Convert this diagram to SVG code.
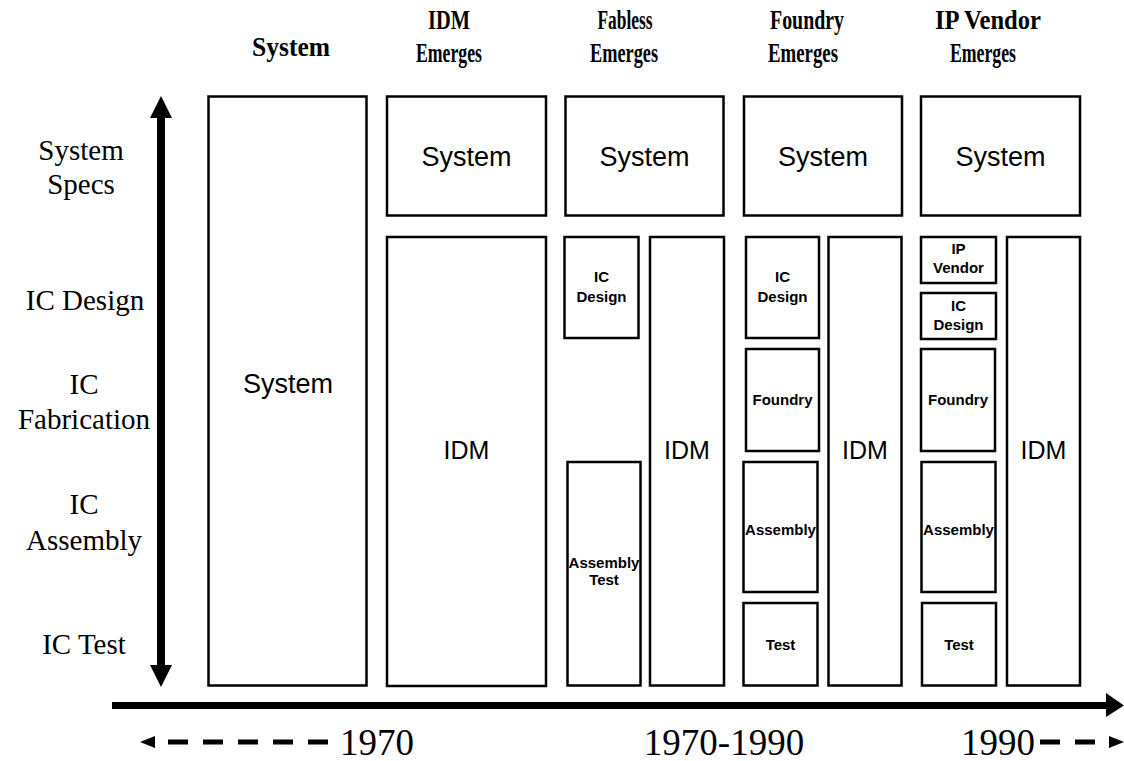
<svg xmlns="http://www.w3.org/2000/svg" width="1124" height="761" viewBox="0 0 1124 761">
  <style>
    .box { fill: #fff; stroke: #000; stroke-width: 2.5; }
    .hdr { font-family: "Liberation Serif", "Times New Roman", serif; font-weight: bold; font-size: 27px; text-anchor: middle; fill: #000; }
    .axis { font-family: "Liberation Serif", "Times New Roman", serif; font-size: 29px; text-anchor: middle; fill: #000; }
    .big { font-family: "Liberation Sans", Arial, sans-serif; font-size: 27px; text-anchor: middle; fill: #000; }
    .idm { font-family: "Liberation Sans", Arial, sans-serif; font-size: 25px; text-anchor: middle; fill: #000; }
    .small { font-family: "Liberation Sans", Arial, sans-serif; font-weight: bold; font-size: 15px; text-anchor: middle; fill: #000; }
    .year { font-family: "Liberation Serif", "Times New Roman", serif; font-size: 37px; text-anchor: middle; fill: #000; }
    .dash { stroke: #000; stroke-width: 5; stroke-dasharray: 20 15; fill: none; }
  </style>

  <rect width="1124" height="761" fill="#fff"/>

  <!-- column headings -->
  <g id="headings">
    <text class="hdr" x="291" y="56" textLength="78" lengthAdjust="spacingAndGlyphs">System</text>
    <text class="hdr" x="449" y="29" textLength="42" lengthAdjust="spacingAndGlyphs">IDM</text>
    <text class="hdr" x="449" y="62" textLength="66" lengthAdjust="spacingAndGlyphs">Emerges</text>
    <text class="hdr" x="625" y="29" textLength="55" lengthAdjust="spacingAndGlyphs">Fabless</text>
    <text class="hdr" x="624" y="62" textLength="68" lengthAdjust="spacingAndGlyphs">Emerges</text>
    <text class="hdr" x="807" y="29" textLength="74" lengthAdjust="spacingAndGlyphs">Foundry</text>
    <text class="hdr" x="803" y="62" textLength="70" lengthAdjust="spacingAndGlyphs">Emerges</text>
    <text class="hdr" x="988" y="29" textLength="106" lengthAdjust="spacingAndGlyphs">IP Vendor</text>
    <text class="hdr" x="983" y="62" textLength="66" lengthAdjust="spacingAndGlyphs">Emerges</text>
  </g>

  <!-- value-chain stage labels -->
  <g id="stages">
    <text class="axis" x="81" y="160">System</text>
    <text class="axis" x="81" y="194">Specs</text>
    <text class="axis" x="85" y="310">IC Design</text>
    <text class="axis" x="84" y="394">IC</text>
    <text class="axis" x="84" y="429">Fabrication</text>
    <text class="axis" x="84" y="514">IC</text>
    <text class="axis" x="84" y="550">Assembly</text>
    <text class="axis" x="84" y="654">IC Test</text>
  </g>

  <!-- arrows and time markers -->
  <g id="connectors">
    <rect x="157" y="116" width="8" height="550" fill="#000"/>
    <polygon points="161,96 172,118 150,118" fill="#000"/>
    <polygon points="161,687 172,665 150,665" fill="#000"/>
    <rect x="112" y="702" width="998" height="7" fill="#000"/>
    <polygon points="1124,705.5 1106,693 1106,717" fill="#000"/>
    <polygon points="140,742 155,736 155,748" fill="#000"/>
    <line class="dash" x1="168" y1="742" x2="330" y2="742"/>
    <line class="dash" x1="1040" y1="742" x2="1100" y2="742"/>
    <polygon points="1124,742 1109,736 1109,748" fill="#000"/>
  </g>

  <g id="years">
    <text class="year" x="377" y="755">1970</text>
    <text class="year" x="724" y="755">1970-1990</text>
    <text class="year" x="998" y="755">1990</text>
  </g>

  <!-- column 1: system house -->
  <g id="col1-system">
    <rect class="box" x="208.5" y="96.5" width="158" height="589"/>
    <text class="big" x="288" y="393">System</text>
  </g>

  <!-- column 2: IDM emerges -->
  <g id="col2-system">
    <rect class="box" x="387" y="96.5" width="159" height="119"/>
    <text class="big" x="466.5" y="166">System</text>
  </g>
  <g id="col2-idm">
    <rect class="box" x="387" y="237" width="159" height="449"/>
    <text class="idm" x="466.5" y="459">IDM</text>
  </g>

  <!-- column 3: fabless emerges -->
  <g id="col3-system">
    <rect class="box" x="565.5" y="96.5" width="158" height="119"/>
    <text class="big" x="644.5" y="166">System</text>
  </g>
  <g id="col3-icdesign">
    <rect class="box" x="564.5" y="237" width="74" height="101"/>
    <text class="small" x="601.5" y="282">IC</text>
    <text class="small" x="601.5" y="302">Design</text>
  </g>
  <g id="col3-assemblytest">
    <rect class="box" x="567.5" y="462" width="73" height="223.5"/>
    <text class="small" x="604" y="568">Assembly</text>
    <text class="small" x="604" y="585">Test</text>
  </g>
  <g id="col3-idm">
    <rect class="box" x="650" y="237" width="74" height="448.5"/>
    <text class="idm" x="687" y="459">IDM</text>
  </g>

  <!-- column 4: foundry emerges -->
  <g id="col4-system">
    <rect class="box" x="744" y="96.5" width="158" height="119"/>
    <text class="big" x="823" y="166">System</text>
  </g>
  <g id="col4-icdesign">
    <rect class="box" x="746" y="237" width="73" height="101"/>
    <text class="small" x="782.5" y="282">IC</text>
    <text class="small" x="782.5" y="302">Design</text>
  </g>
  <g id="col4-foundry">
    <rect class="box" x="746" y="349" width="73" height="102"/>
    <text class="small" x="782.5" y="405">Foundry</text>
  </g>
  <g id="col4-assembly">
    <rect class="box" x="743.5" y="462" width="74" height="130"/>
    <text class="small" x="780.5" y="535">Assembly</text>
  </g>
  <g id="col4-test">
    <rect class="box" x="743.5" y="603" width="74" height="82.5"/>
    <text class="small" x="780.5" y="650">Test</text>
  </g>
  <g id="col4-idm">
    <rect class="box" x="828.5" y="237" width="73" height="448.5"/>
    <text class="idm" x="865" y="459">IDM</text>
  </g>

  <!-- column 5: IP vendor emerges -->
  <g id="col5-system">
    <rect class="box" x="921" y="96.5" width="159" height="119"/>
    <text class="big" x="1000.5" y="166">System</text>
  </g>
  <g id="col5-ipvendor">
    <rect class="box" x="921" y="237" width="75" height="46"/>
    <text class="small" x="958.5" y="254">IP</text>
    <text class="small" x="958.5" y="273">Vendor</text>
  </g>
  <g id="col5-icdesign">
    <rect class="box" x="921" y="293" width="75" height="46"/>
    <text class="small" x="958.5" y="311">IC</text>
    <text class="small" x="958.5" y="330">Design</text>
  </g>
  <g id="col5-foundry">
    <rect class="box" x="921" y="349" width="74" height="102"/>
    <text class="small" x="958" y="405">Foundry</text>
  </g>
  <g id="col5-assembly">
    <rect class="box" x="921.5" y="462" width="74" height="130"/>
    <text class="small" x="958.5" y="535">Assembly</text>
  </g>
  <g id="col5-test">
    <rect class="box" x="922" y="603" width="74" height="82.5"/>
    <text class="small" x="959" y="650">Test</text>
  </g>
  <g id="col5-idm">
    <rect class="box" x="1007" y="237" width="73" height="448.5"/>
    <text class="idm" x="1043.5" y="459">IDM</text>
  </g>
</svg>
